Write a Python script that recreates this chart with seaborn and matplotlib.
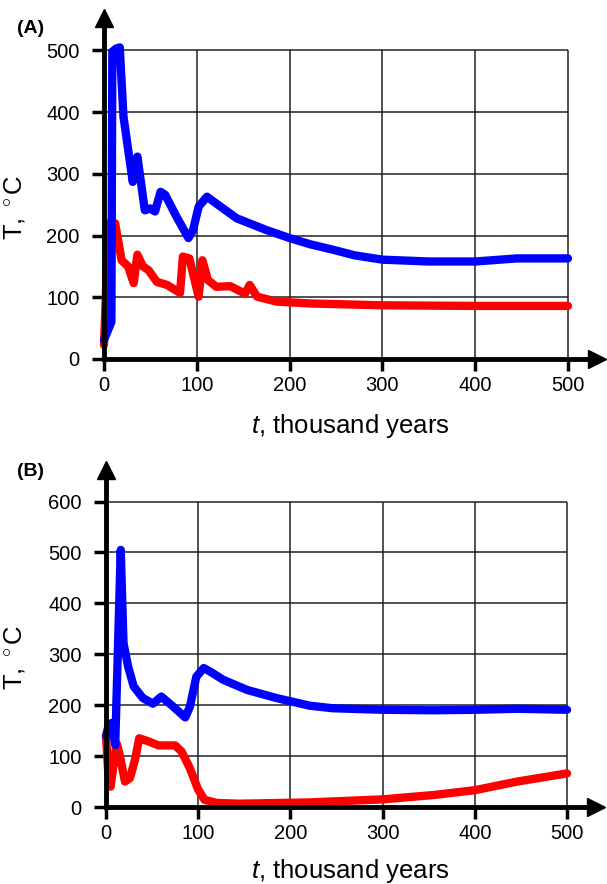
import numpy as np
import pandas as pd
import seaborn as sns
import matplotlib
matplotlib.use("Agg")
import matplotlib.pyplot as plt

# panel (A) values
a_blue_t = [0, 8, 9, 13, 17, 21, 31, 36, 44, 50, 55, 61, 66, 78, 91, 96, 102, 111, 121, 143, 175,
            200, 222, 247, 270, 300, 350, 400, 445, 500]
a_blue_T = [31, 60, 498, 503, 505, 393, 287, 328, 241, 244, 239, 271, 266, 231, 196, 209, 247, 263, 252, 228, 209,
            196, 186, 177, 168, 161, 158, 158, 163, 163]
a_red_t = [0, 5, 12, 19, 26, 32, 36, 42, 48, 57, 68, 82, 85, 92, 102, 106, 112, 121, 136, 152, 157, 165,
           186, 222, 300, 400, 500]
a_red_T = [23, 220, 220, 160, 150, 123, 169, 150, 144, 125, 120, 107, 166, 163, 101, 160, 128, 117, 118, 106, 120, 101,
           93, 90, 87, 86, 86]

# panel (B)
b_blue_t = [0, 3, 6, 10, 16, 19, 24, 30, 40, 51, 60, 73, 86, 91, 98, 106, 113, 127, 153, 185, 221,
            246, 300, 355, 400, 446, 500]
b_blue_T = [140, 161, 165, 122, 505, 322, 276, 237, 214, 203, 217, 197, 176, 197, 256, 273, 266, 250, 230, 214, 199,
            194, 191, 190, 191, 193, 191]
b_red_t = [0, 2.5, 5, 8, 11.5, 14.5, 20.6, 26, 31.5, 36, 46, 57, 75, 82, 91, 100, 107, 120, 145, 221,
           300, 355, 400, 446, 500]
b_red_T = [139, 67, 40, 80, 125, 106, 50, 57, 93, 135, 129, 121, 121, 109, 76, 34, 14, 8, 6.5, 9,
           15, 23.5, 33, 50, 66]

x_ticks = [0, 100, 200, 300, 400, 500]
a_yticks = [0, 100, 200, 300, 400, 500]
b_yticks = [0, 100, 200, 300, 400, 500, 600]

sns.set_style("white")
plt.rcParams['font.family'] = ['Liberation Sans', 'DejaVu Sans']
plt.rcParams['mathtext.fontset'] = 'custom'
plt.rcParams['mathtext.rm'] = 'Liberation Sans'
plt.rcParams['mathtext.it'] = 'Liberation Sans:italic'
plt.rcParams['text.color'] = 'black'
plt.rcParams['axes.labelcolor'] = 'black'
plt.rcParams['xtick.color'] = 'black'
plt.rcParams['ytick.color'] = 'black'

fig = plt.figure(figsize=(6.07, 8.84), dpi=100)
ax1 = fig.add_axes([0.1713, 0.5939, 0.8118, 0.3853])
ax2 = fig.add_axes([0.1746, 0.0871, 0.8066, 0.3812])


def panel(ax, blue_t, blue_T, red_t, red_T, yticks, ytop, lab):
    # grid box limited to the data range
    ax.hlines(yticks[1:], 0, 500, color='#222222', lw=1.1, zorder=1)
    ax.vlines(x_ticks[1:], 0, yticks[-1], color='#222222', lw=1.1, zorder=1)
    red = pd.DataFrame({'t': red_t, 'T': red_T})
    blue = pd.DataFrame({'t': blue_t, 'T': blue_T})
    sns.lineplot(data=red, x='t', y='T', ax=ax, color='#ff0000', lw=6, sort=False, estimator=None,
                 solid_capstyle='round', solid_joinstyle='round', clip_on=False, zorder=3)
    sns.lineplot(data=blue, x='t', y='T', ax=ax, color='#0000ff', lw=6, sort=False, estimator=None,
                 solid_capstyle='round', solid_joinstyle='round', clip_on=False, zorder=4)
    ax.set_xlim(0, 531)
    ax.set_ylim(0, ytop)
    ax.set_xticks(x_ticks)
    ax.set_yticks(yticks)
    ax.set_xticklabels([str(v) for v in x_ticks], fontsize=14.5)
    ax.set_yticklabels([str(v) for v in yticks], fontsize=14.5)
    for s in ['top', 'right']:
        ax.spines[s].set_visible(False)
    for s in ['left', 'bottom']:
        ax.spines[s].set_linewidth(3.5)
        ax.spines[s].set_color('black')
        ax.spines[s].set_zorder(5)
    ax.tick_params(axis='both', direction='out', length=8.5, width=2.5, color='black',
                   labelcolor='black', bottom=True, left=True)
    ax.tick_params(axis='y', pad=9)
    ax.tick_params(axis='x', pad=4)
    # arrow heads
    ax.plot(1, 0, '>k', transform=ax.get_yaxis_transform(), clip_on=False, ms=13, zorder=6)
    ax.plot(0, 1, '^k', transform=ax.get_xaxis_transform(), clip_on=False, ms=13, zorder=6)
    ax.set_xlabel('$t$, thousand years', fontsize=18.5)
    ax.set_ylabel('T, $^\\circ$C', fontsize=18.5)
    ax.xaxis.set_label_coords(0.5, lab[0])
    ax.yaxis.set_label_coords(lab[1], lab[2])


panel(ax1, a_blue_t, a_blue_T, a_red_t, a_red_T, a_yticks, 552, (-0.155, -0.156, 0.446))
panel(ax2, b_blue_t, b_blue_T, b_red_t, b_red_T, b_yticks, 662, (-0.148, -0.161, 0.445))

fig.text(17 / 607, 1 - 20 / 884, '(A)', fontsize=14, fontweight='bold', va='top')
fig.text(17 / 607, 1 - 463 / 884, '(B)', fontsize=14, fontweight='bold', va='top')

fig.savefig('out.png', dpi=100)
